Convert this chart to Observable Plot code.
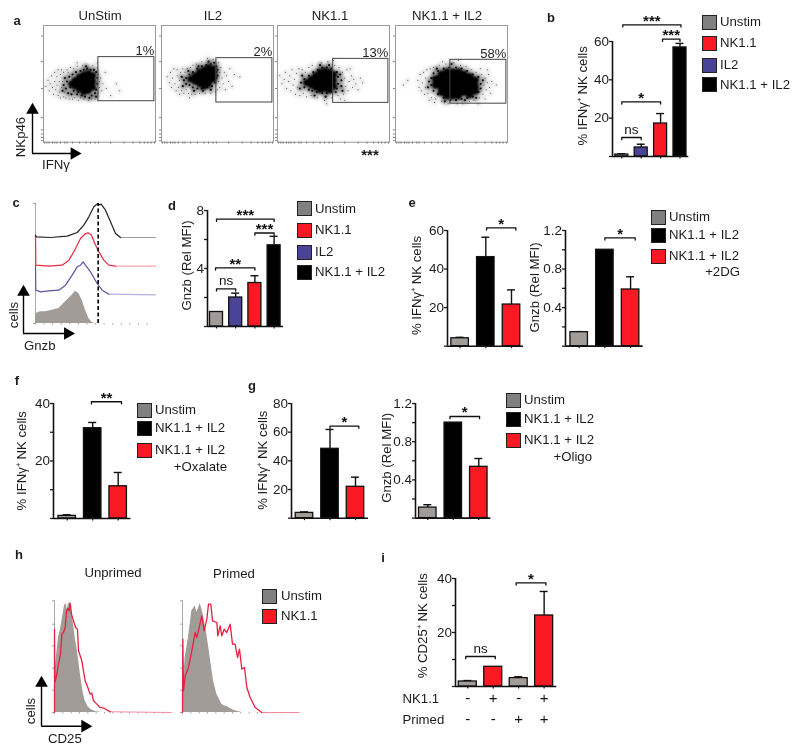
<!DOCTYPE html>
<html><head><meta charset="utf-8">
<script src="https://cdn.jsdelivr.net/npm/d3@7"></script>
<script src="https://cdn.jsdelivr.net/npm/@observablehq/plot@0.6"></script>
<style>
html,body{margin:0;padding:0;background:#fff}
#page{position:relative;width:800px;height:752px;overflow:hidden;font-family:"Liberation Sans",Arial,sans-serif;color:#1c1c1c;filter:blur(0.35px)}
#page svg{position:absolute;background:none;max-width:none}
.t{position:absolute;white-space:nowrap;line-height:1}
.s{position:absolute;box-sizing:border-box;border:1.6px solid #222}
</style></head><body><div id="page"></div>
<script>
// ---------- colours ----------
const GRAY="#a29c98", RED="#fb1a24", BLUE="#4a4496", BLACK="#000000", LEGGRAY="#808080";

// ---------- panel b ----------
const bCats=["Unstim","IL2","NK1.1","NK1.1 + IL2"];
const bVals=[1,4.7,17.2,56.9];
const bErrs=[0.4,1.7,5.2,2.1];
const bCols=[GRAY,BLUE,RED,BLACK];
// ---------- panel d ----------
const dCats=["Unstim","IL2","NK1.1","NK1.1 + IL2"];
const dVals=[1,2.0,3.0,5.6];
const dErrs=[0,0.3,0.5,0.62];
const dCols=[GRAY,BLUE,RED,BLACK];
// ---------- panel e ----------
const eCats=["Unstim","NK1.1 + IL2","NK1.1 + IL2 +2DG"];
const eIfn=[4.1,46.2,21.6];
const eIfnErr=[0.5,10.3,7.6];
const eGnzb=[0.145,1.0,0.588];
const eGnzbErr=[0.006,0,0.132];
const triCols=[GRAY,BLACK,RED];
// ---------- panel f ----------
const fCats=["Unstim","NK1.1 + IL2","NK1.1 + IL2 +Oxalate"];
const fVals=[0.9,31.4,11.2];
const fErrs=[0.4,2,4.8];
// ---------- panel g ----------
const gCats=["Unstim","NK1.1 + IL2","NK1.1 + IL2 +Oligo"];
const gIfn=[3.7,48.4,21.9];
const gIfnErr=[0.7,13.5,6.7];
const gGnzb=[0.11,1.0,0.537];
const gGnzbErr=[0.03,0,0.087];
// ---------- panel i ----------
const iCats=["Unprimed -","Unprimed +","Primed -","Primed +"];
const iVals=[1.85,7.3,3.1,26.3];
const iErrs=[0.35,0,0.5,8.9];
const iCols=[GRAY,RED,GRAY,RED];
const iNK=["-","+","-","+"];
const iPrimed=["-","-","+","+"];

// ---------- panel a : events ----------
const a1Core=[[44,57],[44,52],[44,47],[40,59],[40,54],[40,49],[40,44],[36,58],[36,53],[36,48],[36,43],[32,56],[32,51],[32,46],[28,53],[28,48],[25,50]];
const a1Mid=[[20,46],[21,52],[22,42],[23,56],[24,47],[25,41],[26,58],[27,44],[29,60],[30,41],[31,43],[33,61],[34,40],[36,62],[37,39],[39,63],[41,38],[42,62],[43,40],[45,62],[46,42],[47,60],[47,45],[48,55],[48,50],[18,49],[19,55],[17,44],[47,39],[38,65]];
const a1Fringe=[[2,48],[4,53],[5,44],[6,50],[7,57],[8,47],[9,41],[10,52],[10,60],[11,45],[12,49],[12,56],[13,40],[13,62],[14,43],[14,52],[15,58],[15,38],[16,47],[16,62],[17,52],[18,39],[18,60],[19,43],[20,38],[21,62],[22,60],[23,37],[24,64],[26,37],[27,63],[28,38],[30,65],[31,36],[33,38],[35,66],[36,37],[40,36],[43,37],[44,66],[46,37],[48,64],[49,58],[50,52],[50,47],[49,42],[51,55],[52,44],[53,50],[55,60],[56,46],[60,40],[65,50],[68,44],[48,68],[30,68]];
const a2Core=[[46,63],[46,58],[46,54],[42,64],[42,59],[42,54],[42,50],[38,62],[38,57],[38,52],[38,48],[34,60],[34,55],[34,50],[30,57],[30,52],[26,54]];
const a2Mid=[[49,65],[49,60],[49,55],[48,51],[44,67],[45,48],[40,66],[41,47],[36,65],[36,46],[32,63],[32,46],[28,60],[28,47],[25,58],[25,49],[22,55],[22,50],[20,53],[50,62],[50,57],[37,44],[29,44],[47,68],[24,61],[19,48],[18,56],[44,45],[33,65],[42,69]];
const a2Fringe=[[5,56],[7,51],[8,60],[9,47],[10,55],[11,63],[12,50],[13,44],[14,57],[14,62],[15,47],[16,53],[16,41],[17,60],[18,44],[19,63],[20,42],[21,60],[22,45],[23,63],[24,42],[26,64],[27,41],[28,66],[30,41],[31,67],[34,42],[36,69],[39,42],[41,72],[44,42],[46,71],[48,43],[51,68],[51,52],[52,60],[52,47],[53,64],[54,55],[55,50],[56,60],[57,45],[58,57],[60,52],[61,63],[63,48],[65,58],[70,56],[50,45],[25,38]];
const a3Core=[[50,58],[50,53],[50,48],[46,60],[46,55],[46,50],[46,45],[42,61],[42,56],[42,51],[42,46],[38,60],[38,55],[38,50],[38,45],[34,57],[34,52],[34,47],[30,54],[30,49],[26,51]];
const a3Mid=[[54,56],[54,50],[53,60],[53,46],[48,63],[48,43],[44,64],[44,42],[40,64],[40,42],[36,62],[35,43],[32,60],[31,44],[28,57],[28,45],[24,54],[24,47],[21,51],[57,53],[57,48],[56,58],[20,46],[22,57],[38,66],[46,66],[52,43],[43,39],[33,40],[58,44]];
const a3Fringe=[[2,57],[4,50],[6,54],[7,60],[8,46],[10,52],[11,57],[12,44],[13,62],[14,49],[15,54],[16,41],[17,59],[18,47],[19,63],[20,40],[22,62],[23,42],[25,60],[26,39],[28,64],[30,40],[31,66],[36,38],[39,68],[42,36],[45,69],[48,38],[51,66],[54,40],[55,64],[58,60],[59,41],[60,55],[61,48],[62,62],[63,44],[64,52],[66,57],[67,47],[68,54],[70,50],[72,45],[74,55],[76,51],[60,36],[50,70],[65,63],[56,37],[44,33]];
const a4Core=[[36,54],[36,49],[41,58],[41,53],[41,48],[41,43],[46,60],[46,55],[46,50],[46,45],[46,40],[51,60],[51,55],[51,50],[51,45],[51,40],[56,60],[56,55],[56,50],[56,45],[56,40],[61,58],[61,53],[61,48],[61,43],[66,56],[66,51],[66,46],[66,41],[71,53],[71,48],[71,44]];
const a4Mid=[[32,55],[32,49],[34,59],[34,44],[38,61],[38,41],[43,63],[43,38],[48,64],[49,36],[54,64],[54,36],[59,63],[59,37],[64,61],[64,38],[69,58],[69,39],[74,56],[74,43],[76,50],[76,46],[30,52],[29,47],[78,53],[37,63],[62,36],[50,67],[72,38],[44,35]];
const a4Fringe=[[7,49],[11,53],[20,53],[21,47],[22,58],[23,44],[24,51],[25,60],[26,41],[27,55],[27,47],[28,62],[29,42],[31,63],[32,38],[34,64],[36,37],[39,66],[41,35],[45,67],[47,33],[52,68],[55,33],[58,66],[60,33],[63,65],[66,35],[68,62],[70,36],[72,60],[75,38],[77,58],[78,41],[79,49],[80,55],[81,45],[82,51],[83,58],[84,47],[86,52],[85,42],[80,37],[76,63],[42,69],[56,70],[35,34],[30,36],[82,62],[90,49],[74,33]];
const aTitles=["UnStim","IL2","NK1.1","NK1.1 + IL2"];
const aPercents=["1%","2%","13%","58%"];
const aGates=[[49,99,35.1,72.9],[49,99,34,72],[49.7,99,33.7,71.4],[49,99,33,70.6]];
const flowTicksX=[1,3,5,8,10,12,15,19,21,26,32,38,42,46,49,60,72,80,86,90,93,96,99];
const flowTicksY=[1.4,4,7,10.6,21,46,69,91];

// ---------- panel c : overlaid histograms ----------
const cBlack=[[0,265],[2,260],[45,258],[95,262],[125,273],[145,295],[160,320],[175,350],[187,360],[192,356],[197,358],[210,340],[225,305],[240,270],[255,258],[360,258]];
const cRed=[[0,265],[1,175],[40,172],[80,175],[100,190],[115,215],[125,235],[135,255],[150,270],[158,272],[168,265],[178,240],[190,215],[205,190],[220,175],[240,172],[360,172]];
const cBlue=[[0,175],[1,100],[15,95],[40,98],[70,100],[90,115],[110,145],[125,170],[135,175],[143,185],[150,175],[165,155],[185,120],[200,100],[220,88],[360,86]];
const cGray=[[0,0],[1,30],[15,35],[30,35],[50,40],[70,45],[85,60],[100,75],[110,85],[120,97],[130,90],[140,70],[150,40],[160,15],[170,3],[180,0],[360,0]];
const cPeak=188;

// ---------- panel h : overlaid histograms ----------
const hUnprimedGray=[[0,0],[1,120],[6,170],[12,225],[18,250],[24,285],[30,320],[34,328],[38,310],[42,325],[47,330],[52,300],[57,265],[62,225],[67,195],[72,160],[77,120],[82,85],[87,55],[92,35],[100,18],[110,8],[125,2],[145,0],[350,0]];
const hUnprimedRed=[[0,0],[0,250],[1,90],[6,110],[12,145],[18,175],[22,235],[27,240],[32,255],[36,305],[41,312],[44,305],[47,328],[51,295],[57,275],[63,255],[69,250],[72,185],[77,170],[82,155],[92,95],[100,75],[107,55],[112,58],[117,35],[127,25],[137,15],[150,12],[167,2],[350,0]];
const hPrimedGray=[[0,0],[1,60],[8,165],[18,225],[28,305],[33,312],[38,320],[43,300],[48,312],[53,327],[61,300],[68,262],[73,235],[83,165],[93,95],[103,55],[118,25],[125,20],[133,18],[153,7],[178,0],[350,0]];
const hPrimedRed=[[0,0],[1,220],[3,65],[8,110],[18,135],[28,185],[38,240],[43,225],[50,255],[58,290],[65,245],[73,280],[78,325],[85,325],[90,275],[103,270],[106,230],[113,260],[118,230],[125,250],[133,240],[143,265],[150,205],[158,205],[165,165],[171,190],[178,130],[186,135],[193,75],[203,45],[218,15],[238,0],[350,0]];
const hTicks=[0,67,133,200,265,335];

// ---------- helpers ----------
const page=document.getElementById("page");
const FONT='"Liberation Sans",Arial,sans-serif';
function place(svg,left,top){svg.style.left=left+"px";svg.style.top=top+"px";page.appendChild(svg);}
function txt(s,x,y,o={}){
  const d=document.createElement("div");d.className="t";d.textContent=s;
  d.style.left=x+"px";d.style.top=y+"px";d.style.fontSize=(o.size||13.2)+"px";
  if(o.bold)d.style.fontWeight="bold";
  const ax=o.anchor==="start"?"0":o.anchor==="end"?"-100%":"-50%";
  d.style.transform=`translate(${ax},-50%)`+(o.rotate?` rotate(${o.rotate}deg)`:"");
  page.appendChild(d);
}
function swatch(x,y,size,color){
  const d=document.createElement("div");d.className="s";
  d.style.cssText+=`left:${x}px;top:${y}px;width:${size}px;height:${size}px;background:${color}`;
  page.appendChild(d);
}
function legend(sx,tx,rows,size=15){
  rows.forEach(([name,color,cy])=>{swatch(sx,cy-size/2,size,color);txt(name,tx,cy,{anchor:"start"});});
}
function arrows(x0,y0,yTop,xEnd){
  const m=8,w=xEnd-x0,h=y0-yTop;
  const svg=Plot.plot({width:w+2*m,height:h+2*m,margin:m,x:{domain:[0,w],axis:null},y:{domain:[0,h],axis:null},style:{background:"none"},marks:[
    Plot.ruleX([0],{y1:0,y2:h-6,stroke:"#000",strokeWidth:1.4}),
    Plot.ruleY([0],{x1:0,x2:w-6,stroke:"#000",strokeWidth:1.4}),
    Plot.dot([[0,h-4.5]],{x:d=>d[0],y:d=>d[1],symbol:"triangle",r:4.7,fill:"#000",stroke:"none"}),
    Plot.dot([[w-4.5,0]],{x:d=>d[0],y:d=>d[1],symbol:"triangle",r:4.7,rotate:90,fill:"#000",stroke:"none"})
  ]});
  place(svg,x0-m,yTop-m);
}
function barPanel(o){
  const {cats,vals,errs,cols,ax,y0,yt,xe,c0,step,bw,yTop,ticks,labelled,ylabel,ylabelPx,ylabelDx,brackets=[],extra=[],mb=8}=o;
  const n=cats.length, ml=62, mr=3, head=34;
  const span=y0-yt, ymax=yTop*(span+head)/span, unit=yTop/span;
  const x0=1-(c0-ax)/step, cn=c0+(n-1)*step, x1=n+(xe-cn)/step;
  const rows=cats.map((c,k)=>({i:k+1,cat:c,v:vals[k],e:errs[k],col:cols[k]}));
  const hb=bw/2/step, cap=4/step;
  const withErr=rows.filter(d=>d.e>0);
  const dip=2.2*unit;
  const bracketLines=brackets.flatMap((b,k)=>[{k,x:b.a,y:b.y-dip},{k,x:b.a,y:b.y},{k,x:b.b,y:b.y},{k,x:b.b,y:b.y-dip}]);
  const svg=Plot.plot({
    width:ml+(xe-ax)+mr,height:head+span+mb,marginLeft:ml,marginRight:mr,marginTop:0,marginBottom:mb,
    x:{domain:[x0,x1]},y:{domain:[0,ymax]},color:{type:"identity"},
    style:{background:"none",fontFamily:FONT,color:"#1c1c1c"},
    marks:[
      Plot.ruleX(withErr,{x:"i",y1:"v",y2:d=>d.v+d.e,stroke:"#111",strokeWidth:1.4}),
      Plot.ruleY(withErr,{y:d=>d.v+d.e,x1:d=>d.i-cap,x2:d=>d.i+cap,stroke:"#111",strokeWidth:1.4}),
      Plot.rect(rows,{x1:d=>d.i-hb,x2:d=>d.i+hb,y1:0,y2:"v",fill:"col",stroke:"#111",strokeWidth:1.3}),
      Plot.axisX({ticks:rows.map(d=>d.i),tickFormat:()=>"",tickSize:2.5,label:null,strokeWidth:1.2}),
      Plot.axisY({ticks,tickFormat:d=>labelled.includes(d)?String(d):"",tickSize:3,tickPadding:0.4,label:null,fontSize:13.5,strokeWidth:1.3}),
      Plot.ruleX([x0],{y1:0,y2:yTop,stroke:"#111",strokeWidth:1.6}),
      Plot.ruleY([0],{x1:x0,x2:x1,stroke:"#111",strokeWidth:1.6}),
      Plot.line(bracketLines,{x:"x",y:"y",z:"k",stroke:"#111",strokeWidth:1.3,curve:"linear"}),
      Plot.text(brackets.filter(b=>b.t!=="ns"),{x:b=>(b.a+b.b)/2,y:"y",text:"t",dy:-4,fontSize:15,fontWeight:"bold",fill:"#111"}),
      Plot.text(brackets.filter(b=>b.t==="ns"),{x:b=>(b.a+b.b)/2,y:"y",text:"t",dy:-8,fontSize:13.5,fill:"#111"}),
      Plot.text([ylabel],{x:x0,y:(y0-ylabelPx)*unit,text:d=>d,rotate:-90,dx:-ylabelDx,fontSize:13.2,fill:"#1c1c1c"}),
      ...extra.map(f=>f(x0))
    ]});
  place(svg,ax-ml,yt-head);
}
function flowPanel(left,core,mid,fringe,gate,pct,coreR){
  const m=5,w=112,h=116.7;
  const svg=Plot.plot({width:w+2*m,height:h+2*m,margin:m,x:{domain:[0,100]},y:{domain:[0,100]},
    style:{background:"none",fontFamily:FONT,color:"#555"},
    marks:[
      Plot.frame({stroke:"#9a9a9a",strokeWidth:1}),
      Plot.axisX({anchor:"bottom",ticks:flowTicksX,tickFormat:()=>"",tickSize:2,label:null,strokeWidth:.7}),
      Plot.axisY({anchor:"left",ticks:flowTicksY,tickFormat:()=>"",tickSize:2,label:null,strokeWidth:.7}),
      Plot.dot(fringe,{x:d=>d[0],y:d=>d[1],r:2.6,fill:"#666",fillOpacity:.14,stroke:"none",imageFilter:"blur(1.6px)"}),
      Plot.dot(mid,{x:d=>d[0],y:d=>d[1],r:3,fill:"#222",fillOpacity:.42,stroke:"none",imageFilter:"blur(1.4px)"}),
      Plot.dot(fringe,{x:d=>d[0],y:d=>d[1],r:.5,fill:"#333",stroke:"none"}),
      Plot.dot(mid,{x:d=>d[0],y:d=>d[1],r:1.1,fill:"#111",stroke:"none"}),
      Plot.dot(core,{x:d=>d[0],y:d=>d[1],r:coreR,fill:"#000",stroke:"none",imageFilter:"blur(1px)"}),
      Plot.rect([gate],{x1:d=>d[0],x2:d=>d[1],y1:d=>d[2],y2:d=>d[3],fill:"none",stroke:"#444",strokeWidth:1}),
      Plot.text([pct],{x:gate[1],y:gate[3],text:d=>d,textAnchor:"end",dy:-6,fontSize:13,fill:"#1c1c1c"})
    ]});
  place(svg,left-m,25-m);
}
function histPanel(left,bottom,xMax,yMax,layers,yTicks){
  const m=4,w=xMax/3,h=yMax/3;
  const xy={x:d=>d[0],y:d=>d[1]};
  const marks=[
    Plot.axisX({anchor:"bottom",ticks:d3.range(0,xMax,xMax/14),tickFormat:()=>"",tickSize:1.5,label:null,strokeWidth:.7}),
    Plot.axisY({anchor:"left",ticks:yTicks,tickFormat:()=>"",tickSize:2,label:null,strokeWidth:.7}),
    Plot.ruleX([0],{y1:0,y2:yMax,stroke:"#aaa",strokeWidth:1})
  ];
  layers.forEach(l=>{
    if(l.area)marks.push(Plot.areaY(l.area,{...xy,fill:GRAY,curve:"linear"}));
    if(l.line){
      marks.push(Plot.line(l.line.filter(d=>d[0]>=l.tail),{...xy,stroke:l.pale,strokeWidth:1.1,curve:"linear"}));
      marks.push(Plot.line(l.line.filter(d=>d[0]<=l.tail),{...xy,stroke:l.color,strokeWidth:l.w||1.2,curve:"linear"}));
    }
    if(l.rule!==undefined)marks.push(Plot.ruleX([l.rule],{y1:0,y2:yMax,stroke:"#000",strokeWidth:1.6,strokeDasharray:"4,2.5"}));
  });
  const svg=Plot.plot({width:w+2*m,height:h+2*m,margin:m,x:{domain:[0,xMax]},y:{domain:[0,yMax]},
    style:{background:"none",color:"#777"},marks});
  place(svg,left-m,bottom-h-m);
}
const tickVals=(max,s)=>d3.range(0,max+s/2,s).map(v=>+v.toFixed(2));

// ---------- a ----------
txt("a",17,20,{bold:true,size:13});
[[a1Core,a1Mid,a1Fringe,43.3,3.6],[a2Core,a2Mid,a2Fringe,161,3.6],[a3Core,a3Mid,a3Fringe,277.3,3.7],[a4Core,a4Mid,a4Fringe,395,4.2]]
  .forEach(([c,m,f,l,r],k)=>flowPanel(l,c,m,f,aGates[k],aPercents[k],r));
[100,213,330,447].forEach((x,k)=>txt(aTitles[k],x,16));
txt("***",370,154,{size:15,bold:true});
arrows(31.7,153,105,78);
txt("NKp46",21,137,{rotate:-90});
txt("IFNγ",42,165,{anchor:"start"});

// ---------- b ----------
txt("b",551,17,{bold:true,size:13});
barPanel({cats:bCats,vals:bVals,errs:bErrs,cols:bCols,ax:611.7,y0:155.7,yt:40.7,xe:688,c0:621,step:19.4,bw:13,yTop:60,
  ticks:[0,20,40,60],labelled:[20,40,60],ylabel:"% IFNγ⁺ NK cells",ylabelPx:95,ylabelDx:30,
  brackets:[{a:1,b:2,y:9.9,t:"ns"},{a:1,b:3,y:28.5,t:"*"},{a:3.1,b:4,y:61.2,t:"***"},{a:1.05,b:4.05,y:68.7,t:"***"}]});
legend(702,720,[["Unstim",LEGGRAY,22],["NK1.1",RED,43],["IL2",BLUE,65],["NK1.1 + IL2",BLACK,84.5]]);

// ---------- c ----------
txt("c",16,202,{bold:true,size:13});
histPanel(35,323.3,360,360,[{area:cGray},{line:cBlue,color:"#5a55a8",pale:"#b4b2dc",tail:220},{line:cRed,color:"#ec2a40",pale:"#f6a6ae",tail:240},{line:cBlack,color:"#222",pale:"#9a9a9a",tail:255},{rule:cPeak}],tickVals(360,360));
arrows(23.3,333,287,72);
txt("cells",14,315,{rotate:-90});
txt("Gnzb",24,346,{anchor:"start"});

// ---------- d ----------
txt("d",172,205,{bold:true,size:13});
barPanel({cats:dCats,vals:dVals,errs:dErrs,cols:dCols,ax:206.7,y0:326,yt:210,xe:282.7,c0:215.7,step:19.2,bw:13,yTop:8,
  ticks:[0,2,4,6,8],labelled:[4,8],ylabel:"Gnzb (Rel MFI)",ylabelPx:265,ylabelDx:20.5,
  brackets:[{a:1,b:2,y:2.6,t:"ns"},{a:0.95,b:3,y:4.05,t:"**"},{a:3,b:4,y:6.45,t:"***"},{a:1,b:4,y:7.4,t:"***"}]});
legend(297,315,[["Unstim",LEGGRAY,208.5],["NK1.1",RED,230],["IL2",BLUE,252],["NK1.1 + IL2",BLACK,272]]);

// ---------- e ----------
txt("e",412,202,{bold:true,size:13});
barPanel({cats:eCats,vals:eIfn,errs:eIfnErr,cols:triCols,ax:446.7,y0:345.7,yt:230,xe:522.7,c0:459.3,step:25.7,bw:17.5,yTop:60,
  ticks:[0,20,40,60],labelled:[20,40,60],ylabel:"% IFNγ⁺ NK cells",ylabelPx:285,ylabelDx:31,
  brackets:[{a:2.03,b:3.17,y:61.4,t:"*"}]});
barPanel({cats:eCats,vals:eGnzb,errs:eGnzbErr,cols:triCols,ax:565,y0:345.7,yt:230,xe:642.7,c0:578.7,step:25.7,bw:17.5,yTop:1.2,
  ticks:tickVals(1.2,0.2),labelled:[0.4,0.8,1.2],ylabel:"Gnzb (Rel MFI)",ylabelPx:287,ylabelDx:31,
  brackets:[{a:2,b:3.18,y:1.124,t:"*"}]});
legend(651,669,[["Unstim",LEGGRAY,217],["NK1.1 + IL2",BLACK,235],["NK1.1 + IL2",RED,256]]);
txt("+2DG",740,272,{anchor:"end"});

// ---------- f ----------
txt("f",17,380,{bold:true,size:13});
barPanel({cats:fCats,vals:fVals,errs:fErrs,cols:triCols,ax:53.3,y0:517.7,yt:402.7,xe:130.7,c0:67,step:25.5,bw:17.5,yTop:40,
  ticks:tickVals(40,10),labelled:[20,40],ylabel:"% IFNγ⁺ NK cells",ylabelPx:460,ylabelDx:31.6,
  brackets:[{a:1.95,b:3.13,y:40.6,t:"**"}]});
legend(137,155,[["Unstim",LEGGRAY,410],["NK1.1 + IL2",BLACK,428],["NK1.1 + IL2",RED,450]]);
txt("+Oxalate",227,467,{anchor:"end"});

// ---------- g ----------
txt("g",252,385,{bold:true,size:13});
barPanel({cats:gCats,vals:gIfn,errs:gIfnErr,cols:triCols,ax:291,y0:518,yt:403.3,xe:368,c0:304,step:25.5,bw:17.5,yTop:80,
  ticks:[0,20,40,60,80],labelled:[20,40,60,80],ylabel:"% IFNγ⁺ NK cells",ylabelPx:460,ylabelDx:29,
  brackets:[{a:2,b:3.13,y:64.2,t:"*"}]});
barPanel({cats:gCats,vals:gGnzb,errs:gGnzbErr,cols:triCols,ax:414.7,y0:517.3,yt:402.7,xe:490,c0:427,step:25.5,bw:17.5,yTop:1.2,
  ticks:tickVals(1.2,0.2),labelled:[0.4,0.8,1.2],ylabel:"Gnzb (Rel MFI)",ylabelPx:457,ylabelDx:29,
  brackets:[{a:1.87,b:3.03,y:1.064,t:"*"}]});
legend(506,524,[["Unstim",LEGGRAY,400],["NK1.1 + IL2",BLACK,419],["NK1.1 + IL2",RED,440]]);
txt("+Oligo",592,457,{anchor:"end"});

// ---------- h ----------
txt("h",19,554,{bold:true,size:13});
txt("Unprimed",113,573);
txt("Primed",234,574);
histPanel(54.3,711.7,350,336,[{area:hUnprimedGray},{line:hUnprimedRed,color:"#e8203f",pale:"#f08ca0",w:1.3,tail:167}],hTicks);
histPanel(182.3,711.7,350,336,[{area:hPrimedGray},{line:hPrimedRed,color:"#e8203f",pale:"#f08ca0",w:1.3,tail:238}],hTicks);
arrows(41,725.7,678,89);
txt("cells",31,711,{rotate:-90});
txt("CD25",48,739,{anchor:"start"});
legend(262,281,[["Unstim",LEGGRAY,596],["NK1.1",RED,616]]);

// ---------- i ----------
txt("i",383,557,{bold:true,size:13});
const signRow=(values,dy,name)=>[
  x0=>Plot.text(values.map((s,k)=>({s,i:k+1})),{x:"i",y:0,text:"s",dy,fontSize:15,fill:"#111"}),
  x0=>Plot.text([name],{x:x0,y:0,text:d=>d,dy,dx:-53,textAnchor:"start",fontSize:13.2,fill:"#1c1c1c"})
];
barPanel({cats:iCats,vals:iVals,errs:iErrs,cols:iCols,ax:454.7,y0:685.7,yt:577.7,xe:556,c0:467,step:25.45,bw:18,yTop:40,mb:44,
  ticks:tickVals(40,10),labelled:[20,40],ylabel:"% CD25⁺ NK cells",ylabelPx:625,ylabelDx:33,
  brackets:[{a:0.92,b:2.08,y:11.1,t:"ns"},{a:2.9,b:4.07,y:38.4,t:"*"}],
  extra:[...signRow(iNK,12,"NK1.1"),...signRow(iPrimed,33,"Primed")]});
</script></body></html>
